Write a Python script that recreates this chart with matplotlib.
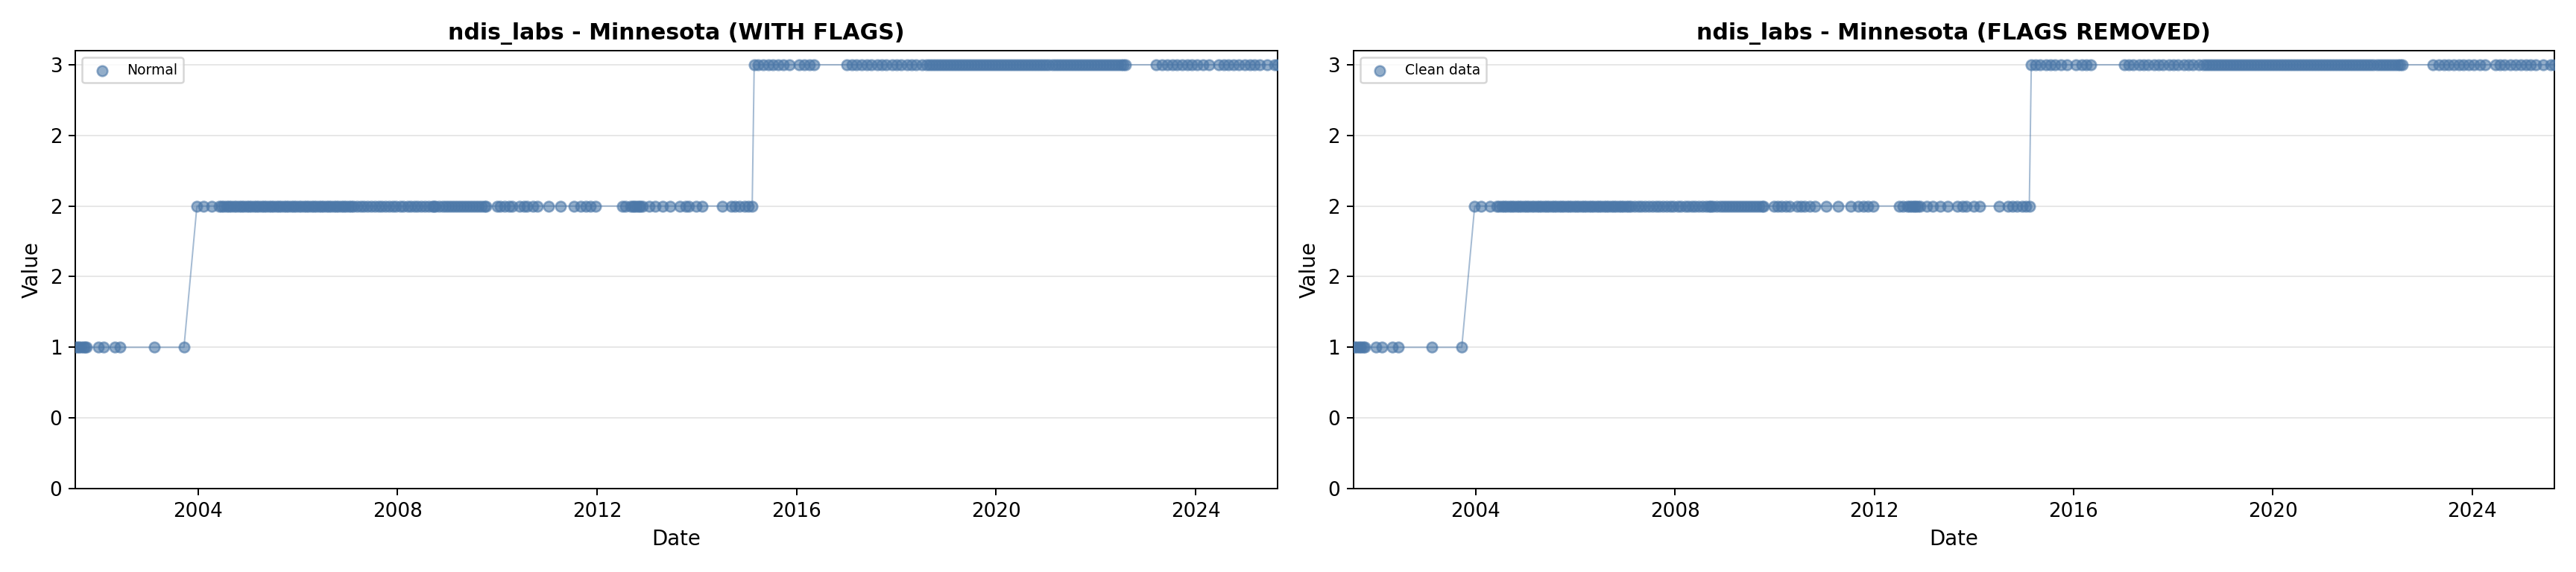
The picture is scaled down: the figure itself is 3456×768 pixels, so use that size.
import matplotlib
matplotlib.use("Agg")
import matplotlib.pyplot as plt
import matplotlib.dates as mdates
from matplotlib.ticker import FormatStrFormatter
from datetime import datetime

# ---- data (decimal years) ----
level_values = [1, 2, 3]

level1_years = [2001.54, 2001.58, 2001.62, 2001.66, 2001.70, 2001.74, 2001.77,
                2002.00, 2002.11, 2002.33, 2002.44, 2003.12, 2003.72]

level2_years = [2003.98, 2004.11, 2004.28,
                2004.42, 2004.47, 2004.52, 2004.57, 2004.62, 2004.67, 2004.72, 2004.77,
                2004.82, 2004.87, 2004.92, 2004.97, 2005.02, 2005.07, 2005.12, 2005.17,
                2005.22, 2005.27, 2005.32, 2005.37, 2005.42, 2005.47, 2005.52, 2005.57,
                2005.62, 2005.67, 2005.72, 2005.77, 2005.82, 2005.87, 2005.92, 2005.97,
                2006.02, 2006.07, 2006.12, 2006.17, 2006.22, 2006.27, 2006.32, 2006.37,
                2006.42, 2006.47, 2006.52, 2006.57, 2006.62, 2006.67, 2006.72, 2006.77,
                2006.82, 2006.87, 2006.92, 2006.97, 2007.02, 2007.07,
                2007.12, 2007.19, 2007.26, 2007.33, 2007.40, 2007.48, 2007.55, 2007.62,
                2007.68, 2007.76, 2007.83, 2007.90, 2007.97, 2008.05, 2008.12, 2008.20,
                2008.27, 2008.34, 2008.40, 2008.48, 2008.55, 2008.62, 2008.69, 2008.72,
                2008.76, 2008.83, 2008.90, 2008.97,
                2009.02, 2009.08, 2009.14, 2009.20, 2009.26, 2009.32, 2009.38, 2009.44,
                2009.50, 2009.56, 2009.62, 2009.68, 2009.74, 2009.78,
                2009.99, 2010.06, 2010.14, 2010.23, 2010.30,
                2010.45, 2010.53, 2010.60, 2010.71, 2010.81,
                2011.03, 2011.27, 2011.53,
                2011.67, 2011.78, 2011.87, 2011.97,
                2012.50, 2012.57,
                2012.67, 2012.71, 2012.75, 2012.79, 2012.83, 2012.87, 2012.91,
                2013.05, 2013.17, 2013.32, 2013.47,
                2013.66, 2013.77, 2013.84,
                2013.99, 2014.11,
                2014.51,
                2014.69, 2014.77, 2014.86, 2014.96, 2015.04, 2015.11]

level3_years = [2015.15, 2015.23, 2015.33, 2015.44, 2015.53, 2015.63, 2015.74, 2015.86,
                2016.05, 2016.16, 2016.26, 2016.35,
                2017.01, 2017.11, 2017.20, 2017.31, 2017.41, 2017.50, 2017.61,
                2017.70, 2017.80, 2017.91, 2018.00, 2018.10, 2018.21, 2018.30, 2018.40,
                2018.51, 2018.60,
                2018.66, 2018.72, 2018.78, 2018.84, 2018.90, 2018.96, 2019.02, 2019.08,
                2019.14, 2019.20, 2019.26, 2019.32, 2019.38, 2019.44, 2019.50, 2019.56,
                2019.62, 2019.68, 2019.74, 2019.80, 2019.86, 2019.92, 2019.98, 2020.04,
                2020.10, 2020.16, 2020.22, 2020.28, 2020.34, 2020.40, 2020.46, 2020.52,
                2020.58, 2020.64, 2020.70, 2020.76, 2020.82, 2020.88, 2020.94, 2021.00,
                2021.06, 2021.12, 2021.18, 2021.24, 2021.30, 2021.36, 2021.42, 2021.48,
                2021.54, 2021.60, 2021.66, 2021.72, 2021.78, 2021.84, 2021.90, 2021.96,
                2022.02, 2022.08, 2022.14, 2022.20, 2022.26, 2022.32, 2022.38, 2022.44,
                2022.50, 2022.55, 2022.59,
                2023.21, 2023.33, 2023.43, 2023.53, 2023.63, 2023.73, 2023.83, 2023.93,
                2024.03, 2024.15, 2024.26,
                2024.46, 2024.56, 2024.65, 2024.76, 2024.87, 2024.98, 2025.08, 2025.17,
                2025.28, 2025.43, 2025.58, 2025.64]

titles = ["ndis_labs - Minnesota (WITH FLAGS)", "ndis_labs - Minnesota (FLAGS REMOVED)"]
legend_labels = ["Normal", "Clean data"]
color = "#4C78A8"


def to_dt(y):
    yr = int(y)
    start = datetime(yr, 1, 1)
    end = datetime(yr + 1, 1, 1)
    return start + (end - start) * (y - yr)


pairs = []
for lv, yrs in zip(level_values, [level1_years, level2_years, level3_years]):
    for y in yrs:
        pairs.append((to_dt(y), lv))
pairs.sort(key=lambda p: p[0])
dates = [p[0] for p in pairs]
values = [p[1] for p in pairs]

fig = plt.figure(figsize=(3456 / 180, 768 / 180), dpi=180)
positions = [[101 / 3456, 1 - 656 / 768, (1714 - 101) / 3456, (656 - 68) / 768],
             [1815.5 / 3456, 1 - 656 / 768, (3426.5 - 1815.5) / 3456, (656 - 68) / 768]]

for pos, title, lab in zip(positions, titles, legend_labels):
    ax = fig.add_axes(pos)
    ax.plot(dates, values, color=color, linewidth=0.8, alpha=0.5, zorder=2)
    ax.scatter(dates, values, s=30, color=color, alpha=0.6, label=lab, zorder=3)
    ax.set_title(title, fontsize=12, fontweight="bold")
    ax.set_xlabel("Date", fontsize=11)
    ax.set_ylabel("Value", fontsize=11)
    ax.tick_params(labelsize=10.5)
    ax.set_xlim(dates[0], dates[-1])
    ax.set_ylim(bottom=0)
    ax.yaxis.set_major_formatter(FormatStrFormatter("%.0f"))
    ax.xaxis.set_major_locator(mdates.YearLocator(4))
    ax.xaxis.set_major_formatter(mdates.DateFormatter("%Y"))
    ax.grid(True, axis="y", alpha=0.3)
    ax.set_axisbelow(True)
    ax.legend(loc="upper left", fontsize=7.5)

fig.savefig("out.png", dpi=180)
